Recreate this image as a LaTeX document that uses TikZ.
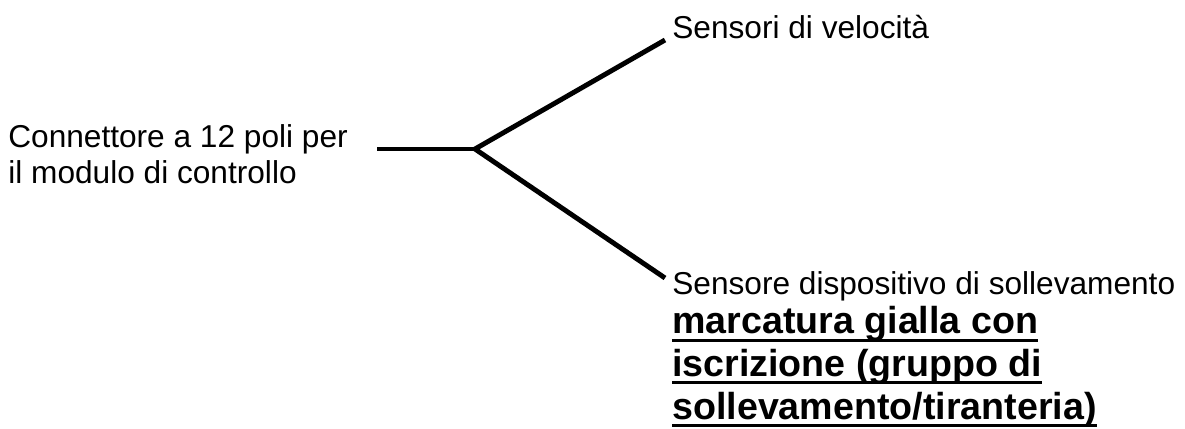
\documentclass[tikz,border=0pt]{standalone}
\usepackage{fontspec}
\setmainfont{Liberation Sans}
\usetikzlibrary{positioning}
\newcommand{\sottolinea}[1]{\setbox0\hbox{#1}\rlap{\rule[-4.5pt]{\wd0}{1.7pt}}\box0}

\begin{document}
\begin{tikzpicture}[
		wire/.style={line width=2.8pt},
		txt/.style={inner sep=0pt, anchor=base west, font=\fontsize{18}{20}\selectfont},
		nota/.style={inner sep=0pt, anchor=base west, align=left, font=\bfseries\fontsize{21.4}{24.2}\selectfont}]
		
		\useasboundingbox (0,0) rectangle (23.7,8.56);
		
		% Testi
		\node[txt, align=left] (conn) at (0.16, 4.90) {Connettore a 12 poli per\\il modulo di controllo};
		\node[txt] (velo) at (13.44, 7.80) {Sensori di velocità};
		\node[txt] (solle) at (13.44, 2.68) {Sensore dispositivo di sollevamento};
		\node[nota] (marca) at (13.44, 0.18) {\sottolinea{marcatura gialla con}\\\sottolinea{iscrizione (gruppo di}\\\sottolinea{sollevamento/tiranteria)}};
		
		% Punti del cavo
		\coordinate (c0) at (7.54, 5.58);
		\coordinate (junc) at (9.50, 5.58);
		\coordinate (c1) at (13.30, 7.76);
		\coordinate (c2) at (13.30, 3.00);
		
		% Cavi
		\draw[wire] (c0) -- (junc);
		\draw[wire] (c1) -- (junc) -- (c2);
		
	\end{tikzpicture}
\end{document}
